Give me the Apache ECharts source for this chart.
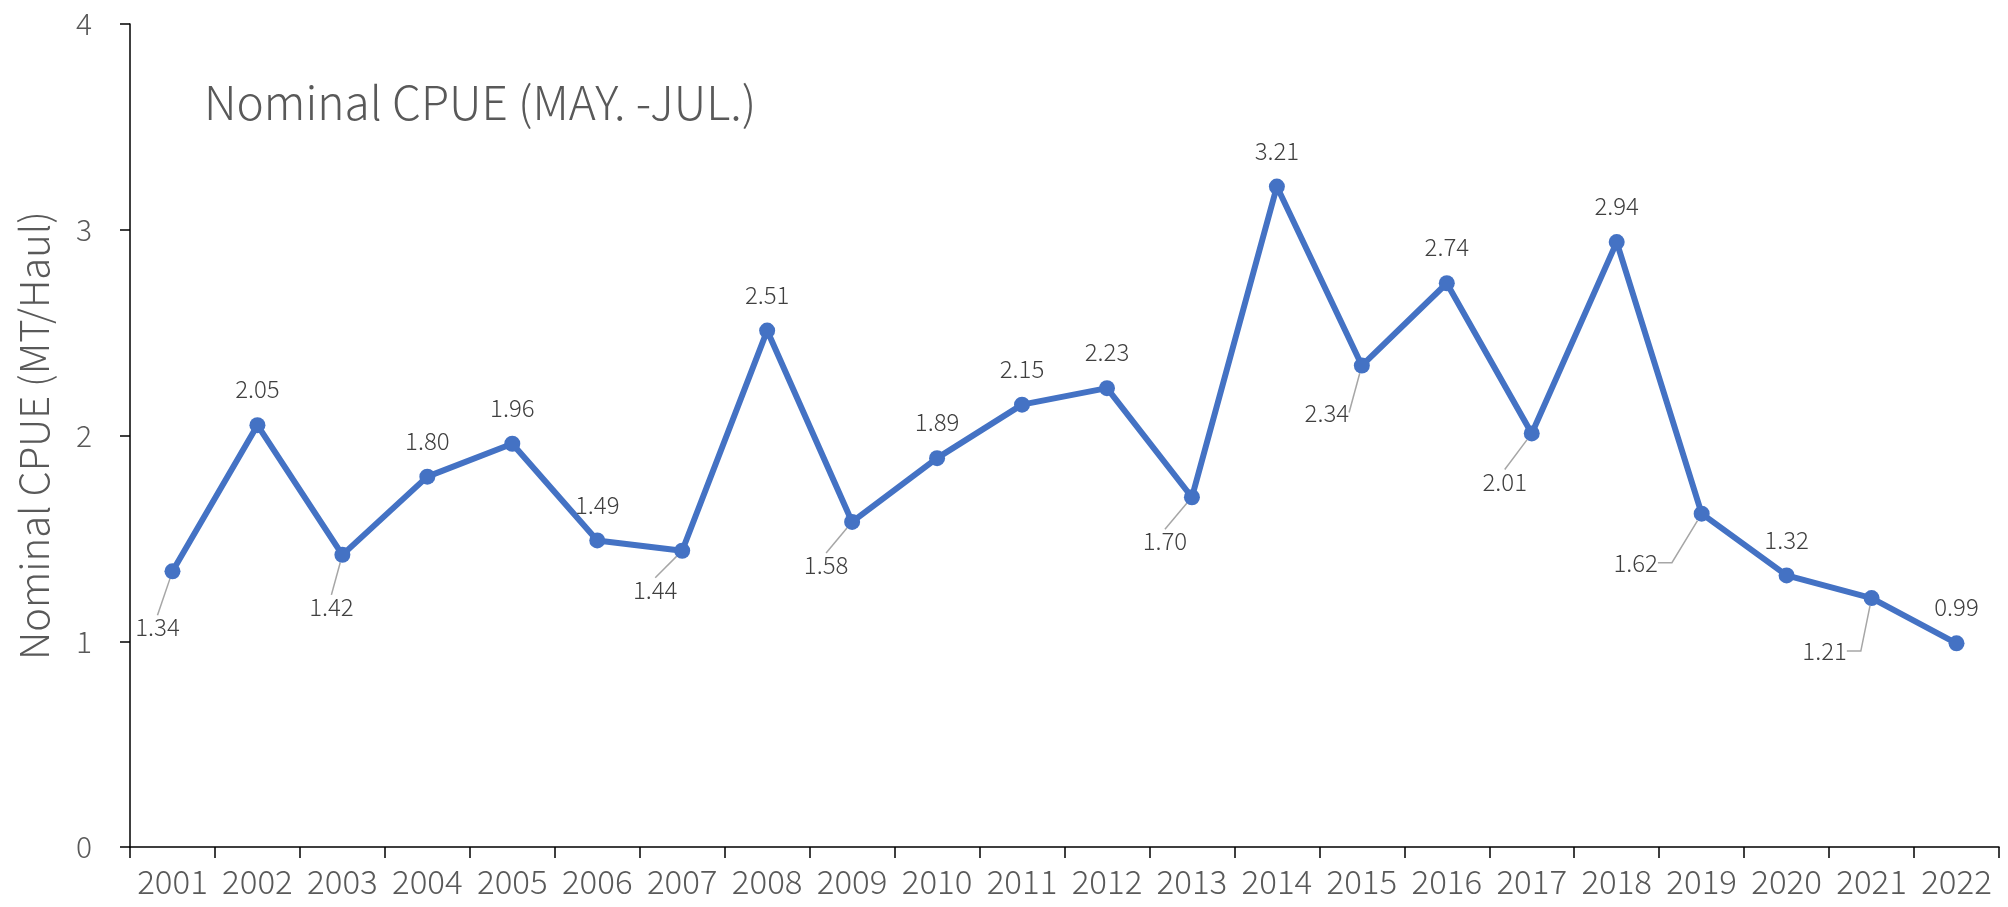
<!DOCTYPE html>
<html>
<head>
<meta charset="utf-8">
<script src="https://cdn.jsdelivr.net/npm/echarts@6/dist/echarts.min.js"></script>
<style>
  html, body { margin: 0; padding: 0; background: #fff; }
  #chart { width: 2008px; height: 907px; }
</style>
</head>
<body>
<div id="chart"></div>
<script>
// data
const years = ['2001', '2002', '2003', '2004', '2005', '2006', '2007', '2008', '2009', '2010', '2011',
    '2012', '2013', '2014', '2015', '2016', '2017', '2018', '2019', '2020', '2021', '2022'];
const cpue = [1.34, 2.05, 1.42, 1.80, 1.96, 1.49, 1.44, 2.51, 1.58, 1.89, 2.15,
    2.23, 1.70, 3.21, 2.34, 2.74, 2.01, 2.94, 1.62, 1.32, 1.21, 0.99];
const yTicks = [0, 1, 2, 3, 4];

// labels that Excel pushed below the point, offset of label centre from point (px)
const belowLabels = {
    0: [-15, 56], 2: [-11, 52], 6: [-27, 39], 8: [-26, 43], 12: [-27, 44],
    14: [-35, 47], 16: [-27, 48], 18: [-66, 49], 20: [-47, 53]
};
const elbowLabels = { 18: 14, 20: 14 };

const FONT = '"Noto Sans CJK JP", "Noto Sans", sans-serif';
const TEXT = '#595959';

const chart = echarts.init(document.getElementById('chart'), null, { renderer: 'canvas' });

const seriesData = cpue.map((v, i) => {
    const item = { value: v };
    if (belowLabels[i]) {
        item.labelLine = {
            show: true,
            length2: elbowLabels[i] || 0,
            lineStyle: { color: '#A6A6A6', width: 1.5 }
        };
    }
    return item;
});

const option = {
    animation: false,
    backgroundColor: '#fff',
    title: {
        text: 'Nominal CPUE (MAY. -JUL.)',
        left: 199,
        top: 75,
        textStyle: { fontFamily: FONT, fontSize: 46, fontWeight: 300, color: TEXT }
    },
    grid: { left: 130, right: 9, top: 24, bottom: 60 },
    xAxis: {
        type: 'category',
        data: years,
        boundaryGap: true,
        axisLine: { lineStyle: { color: '#000', width: 1.5 } },
        axisTick: { show: true, interval: 0, length: 11, lineStyle: { color: '#000', width: 1.5 } },
        axisLabel: { interval: 0, fontFamily: FONT, fontSize: 33, fontWeight: 300, color: TEXT, margin: 18 }
    },
    yAxis: {
        type: 'value',
        min: yTicks[0],
        max: yTicks[yTicks.length - 1],
        interval: 1,
        name: 'Nominal CPUE (MT/Haul)',
        nameLocation: 'middle',
        nameGap: 76,
        nameTextStyle: { fontFamily: FONT, fontSize: 40, fontWeight: 300, color: TEXT },
        splitLine: { show: false },
        axisLine: { show: true, lineStyle: { color: '#000', width: 1.5 } },
        axisTick: { show: true, length: 10, lineStyle: { color: '#000', width: 1.5 } },
        axisLabel: { fontFamily: FONT, fontSize: 30, fontWeight: 300, color: TEXT, margin: 38 }
    },
    series: [{
        type: 'line',
        data: seriesData,
        symbol: 'circle',
        symbolSize: 16,
        showAllSymbol: true,
        lineStyle: { color: '#4472C4', width: 6 },
        itemStyle: { color: '#4472C4' },
        label: {
            show: true,
            position: 'top',
            distance: 16,
            fontFamily: FONT,
            fontSize: 24,
            fontWeight: 300,
            color: '#404040',
            formatter: p => p.value.toFixed(2)
        },
        labelLayout: params => {
            const off = belowLabels[params.dataIndex];
            if (!off) return {};
            const cx = params.rect.x + params.rect.width / 2;
            const cy = params.rect.y + params.rect.height / 2;
            return {
                x: cx + off[0],
                y: cy + off[1],
                align: 'center',
                verticalAlign: 'middle'
            };
        }
    }]
};

chart.setOption(option);
</script>
</body>
</html>
